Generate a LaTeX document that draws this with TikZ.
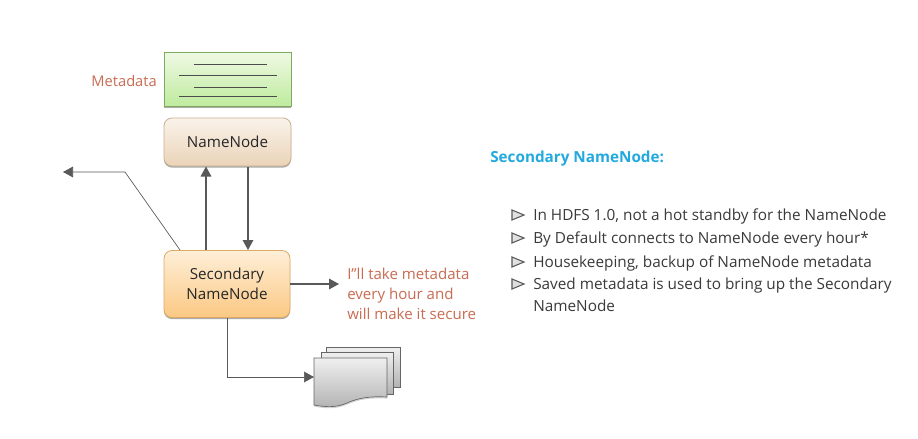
\documentclass[tikz,border=0pt]{standalone}
\usepackage{fontspec}
\setmainfont{Open Sans}
\usetikzlibrary{arrows.meta,shadows,calc}
\definecolor{linecol}{HTML}{595959}
\definecolor{redtxt}{HTML}{C96C52}
\definecolor{bluetxt}{HTML}{22A9DE}
\definecolor{bodytxt}{HTML}{3A3A3A}
\definecolor{metatop}{HTML}{EFF9E4}
\definecolor{metabot}{HTML}{BFEB9E}
\definecolor{metaedge}{HTML}{7FA860}
\definecolor{nntop}{HTML}{FAF3EA}
\definecolor{nnbot}{HTML}{EAD3B8}
\definecolor{nnedge}{HTML}{C8B08F}
\definecolor{sntop}{HTML}{FEEFD8}
\definecolor{snbot}{HTML}{FBC883}
\definecolor{snedge}{HTML}{DDAA66}
\tikzset{
  x=0.75pt,y=-0.75pt,
  softshadow/.style={drop shadow={shadow xshift=0pt,shadow yshift=-1.2pt,fill=black!55,opacity=0.6}},
  metabox/.style={draw=metaedge,line width=0.6pt,top color=metatop,bottom color=metabot,softshadow,minimum width=95.25pt,minimum height=40.5pt,inner sep=0pt},
  nnbox/.style={draw=nnedge,line width=0.6pt,rounded corners=6pt,top color=nntop,bottom color=nnbot,softshadow,minimum width=95.25pt,minimum height=36pt,inner sep=0pt,font=\fontsize{11.4pt}{13pt}\selectfont,text=black!85},
  snbox/.style={draw=snedge,line width=0.6pt,rounded corners=6pt,top color=sntop,bottom color=snbot,softshadow,minimum width=94.5pt,minimum height=50.25pt,inner sep=0pt,align=center,font=\fontsize{11.4pt}{15pt}\selectfont,text=black!85},
  conn/.style={draw=linecol,line width=0.85pt,-{Triangle[length=7.5pt,width=8pt]}},
  thin conn/.style={draw=linecol,line width=0.5pt,-{Triangle[length=7.5pt,width=8pt]}},
  rule/.style={draw=black!70,line width=0.5pt},
  redlabel/.style={text=redtxt,font=\fontsize{11.3pt}{15pt}\selectfont,align=left,inner sep=0pt},
  bullet/.style={text=bodytxt,font=\fontsize{11.5pt}{13.2pt}\selectfont,anchor=west,inner sep=0pt,align=left},
  mark tri/.style={draw=black!65,line width=0.8pt,fill=black!12},
  sheet/.style={draw=black!60,line width=0.5pt,top color=black!6,bottom color=black!30},
}
\begin{document}
\begin{tikzpicture}
\useasboundingbox (0,0) rectangle (918,439);
\fill[white] (0,0) rectangle (918,439);
% boxes
\node[metabox] (meta) at (227.5,79) {};
\node[nnbox] (nn) at (227.5,142) {NameNode};
\node[snbox] (sn) at (227,284) {Secondary\\NameNode};
\node[redlabel,anchor=east,font=\fontsize{11pt}{14pt}\selectfont] (mlabel) at (157,81) {Metadata};
\draw[rule] (194,64.5) -- (267,64.5);
\draw[rule] (179,75.5) -- (277,75.5);
\draw[rule] (194,87.5) -- (267,87.5);
\draw[rule] (179,96.5) -- (277,96.5);
% document stack
\draw[sheet] (326,347) -- (400,347) -- (400,387) -- (326,387) -- cycle;
\draw[sheet] (321,352) -- (393,352) -- (393,394) -- (321,394) -- cycle;
\draw[sheet,drop shadow={shadow xshift=0pt,shadow yshift=-1.2pt,fill=black!35,opacity=0.5}] (314,358) -- (387,358) -- (387,397)
  .. controls (370,396) and (358,398) .. (347,403)
  .. controls (336,408) and (325,407) .. (314,405) -- cycle;
\coordinate (doc) at (314,377);
\coordinate (bend) at (125,172);
\coordinate (leftend) at (63,172);
\coordinate (snexit) at (180,250);
% connectors
\draw[conn] (206,250) -- (206,166.5);
\draw[conn] (248,166.5) -- (248,250);
\draw[thin conn] (snexit) -- (bend) -- (leftend);
\node[redlabel,anchor=north west] (say) at (347,267.5) {I''ll take metadata\\every hour and\\will make it secure};
\draw[conn] (sn.east) -- (339,284);
\draw[thin conn] (sn.south) |- (doc);
% right text
\node[anchor=west,inner sep=0pt,text=bluetxt,font=\bfseries\fontsize{11.45pt}{13pt}\selectfont] (title) at (490,158.5) {Secondary NameNode:};
\foreach \n/\y/\t in {a/215/{In HDFS 1.0, not a hot standby for the NameNode},b/238/{By Default connects to NameNode every hour*},c/262/{Housekeeping, backup of NameNode metadata},d/284/{Saved metadata is used to bring up the Secondary}}{
  \node[bullet] (t\n) at (533,\y+1.5) {\t};
  \draw[mark tri] (512,\y-5) -- (524,\y) -- (512,\y+5) -- cycle;
}
\node[bullet] (te) at (533,305.5) {NameNode};
\end{tikzpicture}
\end{document}
